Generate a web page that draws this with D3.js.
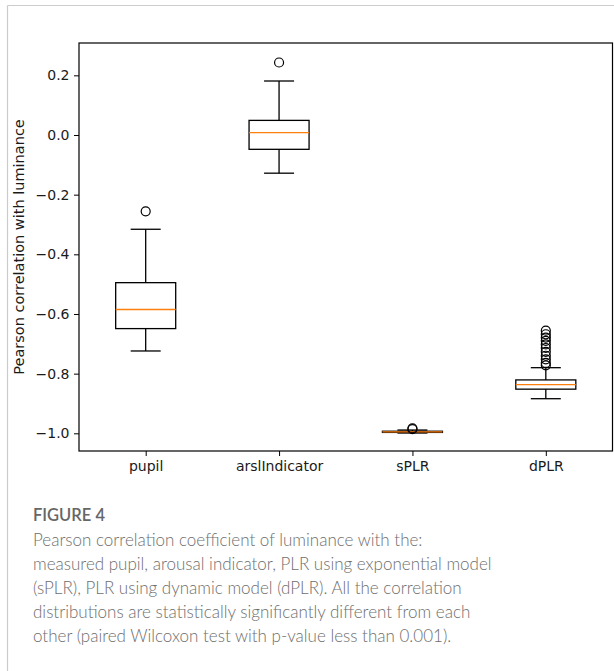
<!DOCTYPE html>
<html>
<head>
<meta charset="utf-8">
<script src="https://cdn.jsdelivr.net/npm/d3@7"></script>
<style>
  body { margin: 0; background: #fff; }
  svg { display: block; }
</style>
</head>
<body>
<svg id="chart" width="614" height="671"></svg>
<script>
var categories = ["pupil", "arslIndicator", "sPLR", "dPLR"];
var whiskerLow  = [-0.724, -0.128, -0.999, -0.884];
var q1Values    = [-0.649, -0.048, -0.997, -0.852];
var medians     = [-0.585,  0.008, -0.995, -0.837];
var q3Values    = [-0.495,  0.049, -0.993, -0.821];
var whiskerHigh = [-0.316,  0.181, -0.989, -0.780];
var outliers = [
    [-0.256],
    [0.243],
    [-0.983, -0.986],
    [-0.656, -0.668, -0.679, -0.690, -0.702, -0.714, -0.727, -0.740, -0.752, -0.764, -0.772]
];
var yTicks = [0.2, 0.0, -0.2, -0.4, -0.6, -0.8, -1.0];
var captionTitle = "FIGURE 4";
var captionLines = [
    "Pearson correlation coefficient of luminance with the:",
    "measured pupil, arousal indicator, PLR using exponential model",
    "(sPLR), PLR using dynamic model (dPLR). All the correlation",
    "distributions are statistically significantly different from each",
    "other (paired Wilcoxon test with p-value less than 0.001)."
];

var svg = d3.select("#chart");

// card frame
svg.append("line")
    .attr("x1", 7.5).attr("y1", 5.5).attr("x2", 614).attr("y2", 5.5)
    .attr("stroke", "#cccccc").attr("stroke-width", 1.2);
svg.append("line")
    .attr("x1", 7.5).attr("y1", 5.5).attr("x2", 7.5).attr("y2", 671)
    .attr("stroke", "#cccccc").attr("stroke-width", 1.2);

var plotLeft = 79, plotRight = 612.5, plotTop = 43, plotBottom = 451;

var x = d3.scaleLinear().domain([0.5, 4.5]).range([plotLeft, plotRight]);
var y = d3.scaleLinear().domain([-1.0593, 0.3084]).range([plotBottom, plotTop]);

var boxW = x(1.45) - x(1);
var capW = boxW / 2;

var g = svg.append("g");

// axes
var yAxis = d3.axisLeft(y)
    .tickValues(yTicks)
    .tickSize(5)
    .tickPadding(4.5)
    .tickFormat(function(d) { return d3.format(".1f")(d).replace("-", "\u2212"); });
var xAxis = d3.axisBottom(x)
    .tickValues([1, 2, 3, 4])
    .tickSize(5)
    .tickPadding(5)
    .tickFormat(function(d, i) { return categories[i]; });

g.append("g").attr("transform", "translate(" + plotLeft + ",0)").call(yAxis)
    .call(function(a) { a.select(".domain").remove(); });
g.append("g").attr("transform", "translate(0," + plotBottom + ")").call(xAxis)
    .call(function(a) { a.select(".domain").remove(); });

g.selectAll(".tick text")
    .attr("font-family", "DejaVu Sans")
    .attr("font-size", 14)
    .attr("fill", "#1a1a1a");
g.selectAll(".tick line").attr("stroke", "#000").attr("stroke-width", 1);

// spines
g.append("rect")
    .attr("x", plotLeft).attr("y", plotTop)
    .attr("width", plotRight - plotLeft).attr("height", plotBottom - plotTop)
    .attr("fill", "none").attr("stroke", "#000").attr("stroke-width", 1.2);

// y label
g.append("text")
    .attr("transform", "translate(18.5," + ((plotTop + plotBottom) / 2) + ") rotate(-90)")
    .attr("text-anchor", "middle")
    .attr("dominant-baseline", "central")
    .attr("font-family", "DejaVu Sans")
    .attr("font-size", 14.5)
    .attr("fill", "#1a1a1a")
    .text("Pearson correlation with luminance");

// boxes
var boxes = g.selectAll(".box")
    .data(categories)
    .enter().append("g")
    .attr("class", "box");

boxes.each(function(c, i) {
    var b = d3.select(this);
    var cx = x(i + 1);
    // whiskers
    b.append("line")
        .attr("x1", cx).attr("x2", cx)
        .attr("y1", y(q3Values[i])).attr("y2", y(whiskerHigh[i]))
        .attr("stroke", "#000").attr("stroke-width", 1.3);
    b.append("line")
        .attr("x1", cx).attr("x2", cx)
        .attr("y1", y(q1Values[i])).attr("y2", y(whiskerLow[i]))
        .attr("stroke", "#000").attr("stroke-width", 1.3);
    // caps
    [whiskerHigh[i], whiskerLow[i]].forEach(function(v) {
        b.append("line")
            .attr("x1", cx - capW / 2).attr("x2", cx + capW / 2)
            .attr("y1", y(v)).attr("y2", y(v))
            .attr("stroke", "#000").attr("stroke-width", 1.3);
    });
    // box
    b.append("rect")
        .attr("x", cx - boxW / 2)
        .attr("y", y(q3Values[i]))
        .attr("width", boxW)
        .attr("height", Math.max(y(q1Values[i]) - y(q3Values[i]), 0.5))
        .attr("fill", "none")
        .attr("stroke", "#000").attr("stroke-width", 1.3);
    // median
    b.append("line")
        .attr("x1", cx - boxW / 2).attr("x2", cx + boxW / 2)
        .attr("y1", y(medians[i])).attr("y2", y(medians[i]))
        .attr("stroke", "#ff7f0e").attr("stroke-width", 1.3);
    // fliers
    b.selectAll("circle")
        .data(outliers[i])
        .enter().append("circle")
        .attr("cx", cx)
        .attr("cy", function(d) { return y(d); })
        .attr("r", 4.5)
        .attr("fill", "none")
        .attr("stroke", "#000").attr("stroke-width", 1.2);
});

// caption
svg.append("text")
    .attr("x", 33).attr("y", 521)
    .attr("font-family", "Lato")
    .attr("font-weight", 600)
    .attr("font-size", 16.5)
    .attr("fill", "#666666")
    .text(captionTitle);

svg.selectAll(".cap")
    .data(captionLines)
    .enter().append("text")
    .attr("class", "cap")
    .attr("x", 33)
    .attr("y", function(d, i) { return 546 + i * 24; })
    .attr("font-family", "Lato")
    .attr("font-weight", 300)
    .attr("font-size", 17)
    .attr("fill", "#6e6e6e")
    .text(function(d) { return d; });
</script>
</body>
</html>
